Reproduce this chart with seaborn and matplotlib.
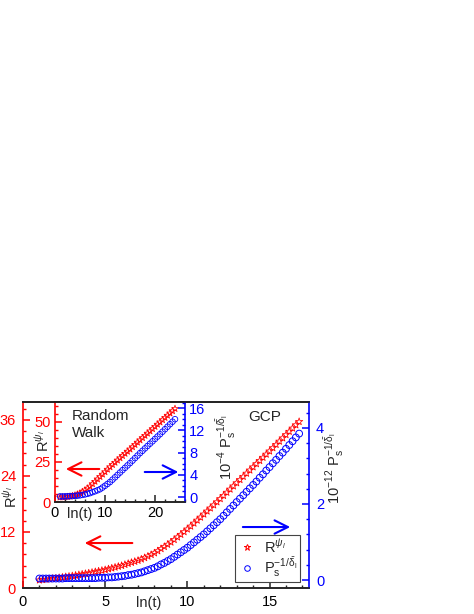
import matplotlib
matplotlib.use("Agg")
import matplotlib.pyplot as plt
from matplotlib.ticker import MultipleLocator
from matplotlib.lines import Line2D
import seaborn as sns

# ---- main panel (GCP) ----
lnt_gcp = [1.0, 1.2, 1.4, 1.6, 1.8, 2.0, 2.2, 2.4, 2.6, 2.8,
           3.0, 3.2, 3.4, 3.6, 3.8, 4.0, 4.2, 4.4, 4.6, 4.8,
           5.0, 5.2, 5.4, 5.6, 5.8, 6.0, 6.2, 6.4, 6.6, 6.8,
           7.0, 7.2, 7.4, 7.6, 7.8, 8.0, 8.2, 8.4, 8.6, 8.8,
           9.0, 9.2, 9.4, 9.6, 9.8, 10.0, 10.2, 10.4, 10.6, 10.8,
           11.0, 11.2, 11.4, 11.6, 11.8, 12.0, 12.2, 12.4, 12.6, 12.8,
           13.0, 13.2, 13.4, 13.6, 13.8, 14.0, 14.2, 14.4, 14.6, 14.8,
           15.0, 15.2, 15.4, 15.6, 15.8, 16.0, 16.2, 16.4, 16.6, 16.8]
r_gcp = [1.70, 1.78, 1.86, 1.94, 2.02, 2.10, 2.20, 2.30, 2.40, 2.50,
         2.60, 2.72, 2.84, 2.96, 3.08, 3.20, 3.34, 3.48, 3.62, 3.76,
         3.90, 4.08, 4.26, 4.44, 4.62, 4.80, 5.02, 5.24, 5.46, 5.68,
         5.90, 6.18, 6.48, 6.80, 7.14, 7.50, 7.94, 8.40, 8.85, 9.32,
         9.80, 10.34, 10.90, 11.45, 12.02, 12.60, 13.22, 13.86, 14.50, 15.14,
         15.80, 16.45, 17.10, 17.76, 18.42, 19.10, 19.78, 20.46, 21.14, 21.82,
         22.50, 23.18, 23.86, 24.54, 25.22, 25.90, 26.58, 27.26, 27.94, 28.62,
         29.30, 30.00, 30.70, 31.40, 32.10, 32.80, 33.50, 34.20, 34.90, 35.60]
p_gcp = [0.04, 0.04, 0.04, 0.04, 0.04, 0.04, 0.04, 0.04, 0.05, 0.05,
         0.05, 0.05, 0.05, 0.05, 0.05, 0.05, 0.05, 0.05, 0.06, 0.06,
         0.06, 0.07, 0.07, 0.08, 0.09, 0.10, 0.11, 0.13, 0.14, 0.16,
         0.18, 0.20, 0.23, 0.26, 0.29, 0.32, 0.36, 0.41, 0.45, 0.50,
         0.55, 0.61, 0.67, 0.73, 0.79, 0.85, 0.92, 0.99, 1.06, 1.13,
         1.20, 1.28, 1.36, 1.44, 1.52, 1.60, 1.69, 1.78, 1.87, 1.96,
         2.05, 2.14, 2.23, 2.32, 2.41, 2.50, 2.59, 2.69, 2.78, 2.88,
         2.97, 3.07, 3.16, 3.26, 3.35, 3.45, 3.55, 3.65, 3.75, 3.85]

# ---- inset (Random Walk) ----
lnt_rw = [1.0, 1.5, 2.0, 2.5, 3.0, 3.5, 4.0, 4.5, 5.0, 5.5, 6.0, 6.5,
          7.0, 7.5, 8.0, 8.5, 9.0, 9.5, 10.0, 10.5, 11.0, 11.5, 12.0, 12.5,
          13.0, 13.5, 14.0, 14.5, 15.0, 15.5, 16.0, 16.5, 17.0, 17.5, 18.0, 18.5,
          19.0, 19.5, 20.0, 20.5, 21.0, 21.5, 22.0, 22.5, 23.0, 23.5, 24.0]
r_rw = [3.0, 3.05, 3.15, 3.3, 3.5, 3.8, 4.2, 4.8, 5.5, 6.4, 7.4, 8.5,
        9.8, 11.3, 12.8, 14.3, 15.8, 17.3, 18.8, 20.4, 21.9, 23.3, 24.7, 26.1,
        27.5, 28.9, 30.3, 31.6, 33.0, 34.4, 35.8, 37.3, 38.7, 40.1, 41.5, 42.9,
        44.3, 45.7, 47.1, 48.5, 49.9, 51.3, 52.7, 54.1, 55.5, 56.9, 58.3]
p_rw = [0.10, 0.10, 0.11, 0.13, 0.15, 0.18, 0.21, 0.25, 0.30, 0.38, 0.47, 0.58,
        0.70, 0.87, 1.03, 1.21, 1.40, 1.70, 2.02, 2.35, 2.70, 3.12, 3.54, 3.97,
        4.40, 4.83, 5.25, 5.68, 6.10, 6.55, 7.00, 7.45, 7.90, 8.32, 8.75, 9.18,
        9.60, 10.02, 10.45, 10.88, 11.30, 11.75, 12.20, 12.65, 13.10, 13.55, 14.00]

RED = "#ff0000"
BLUE = "#0000ff"

sns.set_theme(style="ticks")
plt.rcParams["font.family"] = ["Liberation Sans", "DejaVu Sans"]
plt.rcParams["mathtext.fontset"] = "custom"
plt.rcParams["mathtext.rm"] = "Liberation Sans"
plt.rcParams["mathtext.it"] = "Liberation Sans:italic"
plt.rcParams["mathtext.bf"] = "Liberation Sans:bold"

R_LABEL = r"$\mathrm{R}^{\psi_l}$"
P_LABEL = r"$\mathrm{P_s^{-1/\bar{\delta}_l}}$"

fig = plt.figure(figsize=(4.74, 6.14), dpi=100)


def style_pair(a, b, fs, pad):
    for s in ["left", "right", "top", "bottom"]:
        a.spines[s].set_linewidth(1.2)
        b.spines[s].set_linewidth(1.2)
    a.spines["left"].set_color(RED)
    a.spines["right"].set_visible(False)
    b.spines["left"].set_visible(False)
    b.spines["right"].set_color(BLUE)
    a.spines["top"].set_color("black")
    a.spines["bottom"].set_color("#222222")
    a.tick_params(axis="x", which="both", direction="in", colors="#222222",
                  labelcolor="black", labelsize=fs, pad=pad, top=False)
    a.tick_params(axis="y", which="both", direction="in", colors=RED,
                  labelsize=fs, pad=pad)
    b.tick_params(axis="y", which="both", direction="in", colors=BLUE,
                  labelsize=fs, pad=pad)
    for t in (a, b):
        t.tick_params(which="major", length=5, width=1.1)
        t.tick_params(which="minor", length=2.5, width=1.0)


def arrow(a, x0, x1, y, col):
    a.annotate("", xy=(x1, y), xytext=(x0, y), xycoords="axes fraction",
               arrowprops=dict(arrowstyle="->,head_length=0.8,head_width=0.4",
                               color=col, lw=1.5))


# main axes
ax = fig.add_axes([0.0485, 0.0423, 0.6034, 0.3029])
ax2 = ax.twinx()
sns.scatterplot(x=lnt_gcp, y=r_gcp, ax=ax, marker="*", s=30,
                facecolor="none", edgecolor=RED, linewidth=0.55, legend=False)
sns.scatterplot(x=lnt_gcp, y=p_gcp, ax=ax2, marker="o", s=24,
                facecolor="none", edgecolor=BLUE, linewidth=0.7, legend=False)
ax.set_xlim(0, 17.4)
ax.set_ylim(0, 39.8)
ax2.set_ylim(-0.21, 4.68)
ax.xaxis.set_major_locator(MultipleLocator(5))
ax.xaxis.set_minor_locator(MultipleLocator(1))
ax.yaxis.set_major_locator(MultipleLocator(12))
ax.yaxis.set_minor_locator(MultipleLocator(2.4))
ax2.yaxis.set_major_locator(MultipleLocator(2))
ax2.yaxis.set_minor_locator(MultipleLocator(0.4))
style_pair(ax, ax2, 10.5, 5)
ax.set_xlabel("ln(t)", fontsize=10.5)
ax.xaxis.set_label_coords(0.44, -0.08)
ax.xaxis.label.set_va("center")
ax.set_ylabel(R_LABEL, fontsize=10.5)
ax.yaxis.set_label_coords(-0.042, 0.49)
ax.yaxis.label.set_va("center")
ax2.set_ylabel(r"$\mathrm{10^{-12}\ P_s^{-1/\bar{\delta}_l}}$", fontsize=10.5)
ax2.yaxis.set_label_coords(1.09, 0.645)
ax2.yaxis.label.set_va("center")
ax.text(0.846, 0.92, "GCP", transform=ax.transAxes, ha="center", va="center",
        fontsize=11)
arrow(ax, 0.392, 0.206, 0.242, RED)
handles = [Line2D([], [], ls="", marker="*", ms=5, mfc="none", mec=RED, mew=0.7),
           Line2D([], [], ls="", marker="o", ms=4, mfc="none", mec=BLUE, mew=0.7)]
leg = ax2.legend(handles, [R_LABEL, P_LABEL], loc="lower right",
                 bbox_to_anchor=(0.969, 0.032), fontsize=10.5, frameon=True,
                 fancybox=False, edgecolor="#444444", handlelength=1.3,
                 handletextpad=0.5, borderpad=0.2, labelspacing=0.05,
                 borderaxespad=0.0, framealpha=1.0)
leg.get_frame().set_linewidth(0.8)
arrow(ax2, 0.759, 0.944, 0.328, BLUE)

# inset
ins = fig.add_axes([0.116, 0.1824, 0.2743, 0.1629])
ins2 = ins.twinx()
sns.scatterplot(x=lnt_rw, y=r_rw, ax=ins, marker="*", s=26,
                facecolor="none", edgecolor=RED, linewidth=0.55, legend=False)
sns.scatterplot(x=lnt_rw, y=p_rw, ax=ins2, marker="o", s=16,
                facecolor="none", edgecolor=BLUE, linewidth=0.6, legend=False)
ins.set_xlim(0, 26)
ins.set_ylim(0, 62.5)
ins2.set_ylim(-0.9, 17.1)
ins.xaxis.set_major_locator(MultipleLocator(10))
ins.xaxis.set_minor_locator(MultipleLocator(2))
ins.yaxis.set_major_locator(MultipleLocator(25))
ins.yaxis.set_minor_locator(MultipleLocator(5))
ins2.yaxis.set_major_locator(MultipleLocator(4))
ins2.yaxis.set_minor_locator(MultipleLocator(1))
style_pair(ins, ins2, 10.5, 3)
ins.set_xlabel("ln(t)", fontsize=10.5)
ins.xaxis.set_label_coords(0.19, -0.12)
ins.xaxis.label.set_va("center")
ins.set_ylabel(R_LABEL, fontsize=10.5)
ins.yaxis.set_label_coords(-0.092, 0.61)
ins.yaxis.label.set_va("center")
ins2.set_ylabel(r"$\mathrm{10^{-4}\ P_s^{-1/\bar{\delta}_l}}$", fontsize=10.5)
ins2.yaxis.set_label_coords(1.32, 0.55)
ins2.yaxis.label.set_va("center")
ins.text(0.13, 0.93, "Random\nWalk", transform=ins.transAxes, ha="left",
         va="top", fontsize=11, linespacing=1.25)
arrow(ins, 0.362, 0.062, 0.33, RED)
arrow(ins2, 0.669, 0.97, 0.30, BLUE)

fig.savefig("out.png", dpi=100)
